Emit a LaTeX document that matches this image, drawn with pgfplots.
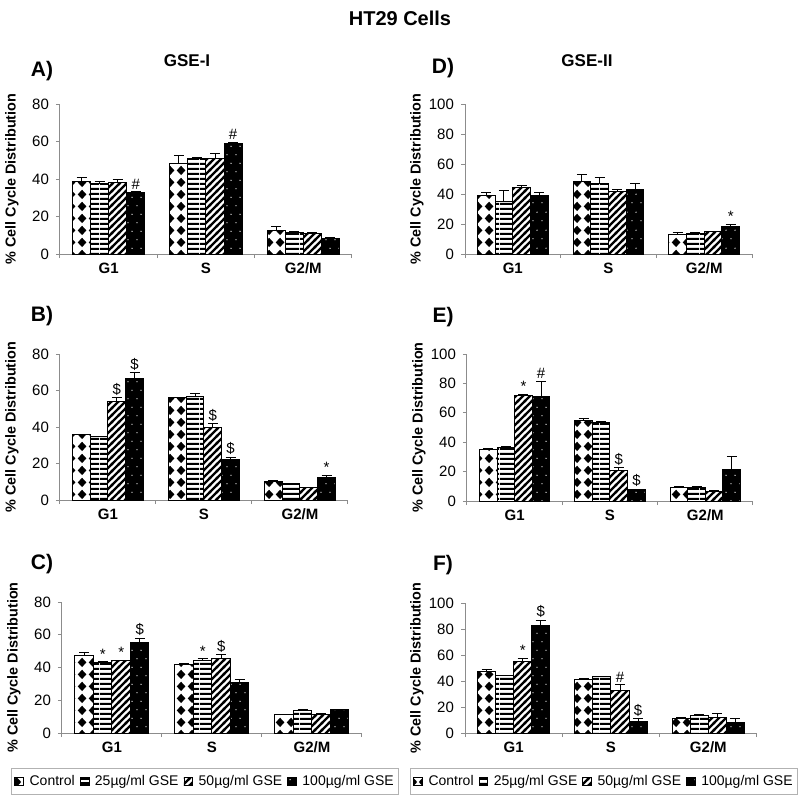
\documentclass[border=0pt]{standalone}
\usepackage{fontspec}
\setmainfont{Liberation Sans}
\usepackage{pgfplots}
\pgfplotsset{compat=1.18}
\usetikzlibrary{patterns}
\newcommand\fs[1]{\fontsize{#1}{#1}\selectfont}

% Control: black diamonds on white
\pgfdeclarepatternformonly{diamondsP}{\pgfqpoint{0pt}{0pt}}{\pgfqpoint{5.5pt}{6pt}}{\pgfqpoint{5.5pt}{6pt}}{%
  \pgfpathmoveto{\pgfqpoint{2.75pt}{0.5pt}}%
  \pgfpathlineto{\pgfqpoint{5.1pt}{3pt}}%
  \pgfpathlineto{\pgfqpoint{2.75pt}{5.5pt}}%
  \pgfpathlineto{\pgfqpoint{0.4pt}{3pt}}%
  \pgfpathclose\pgfusepath{fill}}
% 25: horizontal stripes
\pgfdeclarepatternformonly{hstripes}{\pgfqpoint{0pt}{0pt}}{\pgfqpoint{10pt}{2.5pt}}{\pgfqpoint{10pt}{2.5pt}}{%
  \pgfpathrectangle{\pgfqpoint{0pt}{0pt}}{\pgfqpoint{10pt}{1.25pt}}\pgfusepath{fill}}
% 50: diagonal stripes
\pgfdeclarepatternformonly{dstripes}{\pgfqpoint{-1pt}{-1pt}}{\pgfqpoint{4.5pt}{4.5pt}}{\pgfqpoint{3.5pt}{3.5pt}}{%
  \pgfsetlinewidth{1.1pt}%
  \pgfpathmoveto{\pgfqpoint{-0.5pt}{-0.5pt}}\pgfpathlineto{\pgfqpoint{4pt}{4pt}}\pgfusepath{stroke}}
% 100: white dots (drawn over black)
\pgfdeclarepatternformonly{wdots}{\pgfqpoint{0pt}{0pt}}{\pgfqpoint{4.5pt}{8.7pt}}{\pgfqpoint{4.5pt}{8.7pt}}{%
  \pgfpathcircle{\pgfqpoint{1.1pt}{2.2pt}}{0.35pt}%
  \pgfpathcircle{\pgfqpoint{3.35pt}{6.55pt}}{0.35pt}\pgfusepath{fill}}

\pgfplotsset{
  panel/.style={scale only axis, anchor=south west, clip=false,
    ymin=0, xmin=-0.5, xmax=2.5,
    axis lines*=left, axis line style={black!45, line width=0.5pt},
    tick align=outside, major tick length=2pt, tick style={black!45, line width=0.5pt},
    xtick={-0.5,0.5,1.5,2.5}, xticklabels={},
    extra x ticks={0,1,2}, extra x tick labels={G1,S,G2/M},
    extra x tick style={major tick length=0pt, tick style={draw=none},
      xticklabel style={font=\fs{7.5}\bfseries, yshift=-1pt}},
    ytick distance=20,
    yticklabel style={font=\fs{7.5}},
    /pgf/number format/assume math mode=true,
    ylabel={\% Cell Cycle Distribution},
    every axis y label/.style={at={(axis description cs:0,0.5)}, xshift=-24pt, rotate=90, anchor=center, font=\fs{7.2}\bfseries},
  },
  legstyle/.style={legend columns=4,
    legend style={draw=black!30, line width=0.5pt, font=\fs{7}, inner xsep=1.5pt, inner ysep=2.2pt,
      nodes={inner sep=1pt},
      /tikz/every odd column/.append style={column sep=1.8pt},
      /tikz/every even column/.append style={column sep=1.5pt}},
    legend cell align=left},
  bar/.style={ybar, bar width=0.185, bar shift=0pt, draw=black, line width=0.5pt,
    error bars/y dir=plus, error bars/y explicit,
    error bars/error bar style={black, line width=0.5pt},
    error bars/error mark options={rotate=90, black, line width=0.5pt, mark size=2.5pt},
    legend image code/.code={\draw[##1,/tikz/.cd, line width=0.4pt] (0pt,-2.2pt) rectangle (4.4pt,2.2pt);}},
  ctrl/.style={bar, pattern=diamondsP, pattern color=black},
  sA/.style={bar, pattern=hstripes, pattern color=black},
  sB/.style={bar, pattern=dstripes, pattern color=black},
  sC/.style={bar, fill=black, postaction={pattern=wdots, pattern color=white}},
  sig/.style={forget plot, draw=none, mark=none, nodes near coords, point meta=explicit symbolic,
    nodes near coords style={font=\fs{7.5}, inner sep=1pt, anchor=south}},
}

\begin{document}
\begin{tikzpicture}
\path[use as bounding box] (0pt,0pt) rectangle (400pt,-400pt);
\node[font=\fs{10}\bfseries] at (200pt,-9pt) {HT29 Cells};
\node[font=\fs{8.5}\bfseries] at (93.5pt,-30.5pt) {GSE-I};
\node[font=\fs{8.5}\bfseries] at (293.5pt,-30.5pt) {GSE-II};
\node[font=\fs{10.5}\bfseries] at (21pt,-35.5pt) {A)};
\node[font=\fs{10.5}\bfseries] at (221.5pt,-34pt) {D)};
\node[font=\fs{10.5}\bfseries] at (21pt,-158pt) {B)};
\node[font=\fs{10.5}\bfseries] at (221.5pt,-158.5pt) {E)};
\node[font=\fs{10.5}\bfseries] at (21pt,-282pt) {C)};
\node[font=\fs{10.5}\bfseries] at (221.5pt,-282.5pt) {F)};

% ---------- A ----------
\begin{axis}[panel, at={(30pt,-127pt)}, width=146pt, height=75pt, ymax=80]
\addplot[ctrl] coordinates {(-0.2775,38.8) +- (0,2.0) (0.7225,48.4) +- (0,4.0) (1.7225,12.4) +- (0,2.2)};
\addplot[sA] coordinates {(-0.0925,37.5) +- (0,1.1) (0.9075,50.7) +- (0,1.0) (1.9075,11.6) +- (0,0.2)};
\addplot[sB] coordinates {(0.0925,37.9) +- (0,1.6) (1.0925,51.0) +- (0,2.7) (2.0925,10.7) +- (0,1.0)};
\addplot[sC] coordinates {(0.2775,32.9) +- (0,0.4) (1.2775,58.8) +- (0,0.8) (2.2775,8.4) +- (0,0.2)};
\addplot[sig] coordinates {(0.2775,33.3) [\#] (1.2775,59.6) [\#]};
\end{axis}

% ---------- B ----------
\begin{axis}[panel, at={(30pt,-250pt)}, width=144pt, height=73pt, ymax=80]
\addplot[ctrl] coordinates {(-0.2775,35.7) +- (0,0.4) (0.7225,55.9) +- (0,0.4) (1.7225,10.1) +- (0,0.4)};
\addplot[sA] coordinates {(-0.0925,34.8) +- (0,0.2) (0.9075,56.8) +- (0,1.4) (1.9075,8.8) +- (0,0.5)};
\addplot[sB] coordinates {(0.0925,53.8) +- (0,2.2) (1.0925,39.7) +- (0,2.2) (2.0925,6.8) +- (0,0.2)};
\addplot[sC] coordinates {(0.2775,66.7) +- (0,2.9) (1.2775,22.0) +- (0,1.4) (2.2775,12.3) +- (0,1.4)};
\addplot[sig] coordinates {(0.0925,56.0) [\$] (0.2775,69.6) [\$] (1.0925,41.9) [\$] (1.2775,23.4) [\$] (2.2775,13.7) [*]};
\end{axis}

% ---------- C ----------
\begin{axis}[panel, legstyle, at={(31pt,-366.5pt)}, width=150pt, height=65.5pt, ymax=80,
  legend style={at={(0.477,-0.267)}, anchor=north}]
\addplot[ctrl] coordinates {(-0.2775,47.6) +- (0,1.3) (0.7225,41.8) +- (0,0.4) (1.7225,11.2) +- (0,0.4)};
\addlegendentry{Control}
\addplot[sA] coordinates {(-0.0925,43.2) +- (0,0.4) (0.9075,44.4) +- (0,0.8) (1.9075,13.6) +- (0,0.5)};
\addlegendentry{25µg/ml GSE}
\addplot[sB] coordinates {(0.0925,44.0) +- (0,0.4) (1.0925,45.2) +- (0,2.5) (2.0925,11.6) +- (0,0.4)};
\addlegendentry{50µg/ml GSE}
\addplot[sC] coordinates {(0.2775,55.2) +- (0,2.6) (1.2775,31.0) +- (0,1.4) (2.2775,14.3) +- (0,0.1)};
\addlegendentry{100µg/ml GSE}
\addplot[sig] coordinates {(-0.0925,43.6) [*] (0.0925,44.4) [*] (0.2775,57.8) [\$] (0.9075,45.2) [*] (1.0925,47.7) [\$]};
\end{axis}

% ---------- D ----------
\begin{axis}[panel, at={(232.5pt,-127pt)}, width=143.5pt, height=75pt, ymax=100]
\addplot[ctrl] coordinates {(-0.2775,38.9) +- (0,2.4) (0.7225,48.4) +- (0,4.3) (1.7225,12.9) +- (0,1.5)};
\addplot[sA] coordinates {(-0.0925,35.1) +- (0,7.3) (0.9075,47.3) +- (0,3.6) (1.9075,13.8) +- (0,0.6)};
\addplot[sB] coordinates {(0.0925,44.2) +- (0,1.4) (1.0925,41.6) +- (0,1.5) (2.0925,14.7) +- (0,0.6)};
\addplot[sC] coordinates {(0.2775,39.1) +- (0,2.2) (1.2775,43.1) +- (0,3.6) (2.2775,18.2) +- (0,1.6)};
\addplot[sig] coordinates {(2.2775,19.8) [*]};
\end{axis}

% ---------- E ----------
\begin{axis}[panel, at={(233.5pt,-250.5pt)}, width=143pt, height=73.5pt, ymax=100]
\addplot[ctrl] coordinates {(-0.2775,35.1) +- (0,0.7) (0.7225,55.1) +- (0,0.7) (1.7225,9.3) +- (0,0.5)};
\addplot[sA] coordinates {(-0.0925,36.5) +- (0,0.4) (0.9075,53.7) +- (0,0.7) (1.9075,9.3) +- (0,0.7)};
\addplot[sB] coordinates {(0.0925,71.9) +- (0,0.7) (1.0925,20.9) +- (0,1.8) (2.0925,6.8) +- (0,0.2)};
\addplot[sC] coordinates {(0.2775,71.0) +- (0,10.4) (1.2775,7.7) +- (0,0.2) (2.2775,21.1) +- (0,9.3)};
\addplot[sig] coordinates {(0.0925,72.6) [*] (0.2775,81.4) [\#] (1.0925,22.7) [\$] (1.2775,7.9) [\$]};
\end{axis}

% ---------- F ----------
\begin{axis}[panel, legstyle, at={(232.5pt,-366.5pt)}, width=146pt, height=65pt, ymax=100,
  legend style={at={(0.476,-0.269)}, anchor=north}]
\addplot[ctrl] coordinates {(-0.2775,47.7) +- (0,0.8) (0.7225,40.8) +- (0,0.8) (1.7225,11.5) +- (0,0.5)};
\addlegendentry{Control}
\addplot[sA] coordinates {(-0.0925,44.1) +- (0,0.5) (0.9075,43.1) +- (0,0.5) (1.9075,13.8) +- (0,0.7)};
\addlegendentry{25µg/ml GSE}
\addplot[sB] coordinates {(0.0925,55.1) +- (0,2.3) (1.0925,32.7) +- (0,4.3) (2.0925,12.2) +- (0,2.9)};
\addlegendentry{50µg/ml GSE}
\addplot[sC] coordinates {(0.2775,82.9) +- (0,3.8) (1.2775,8.9) +- (0,2.3) (2.2775,8.2) +- (0,2.8)};
\addlegendentry{100µg/ml GSE}
\addplot[sig] coordinates {(0.0925,57.4) [*] (0.2775,86.7) [\$] (1.0925,37.0) [\#] (1.2775,11.2) [\$]};
\end{axis}
\end{tikzpicture}
\end{document}
